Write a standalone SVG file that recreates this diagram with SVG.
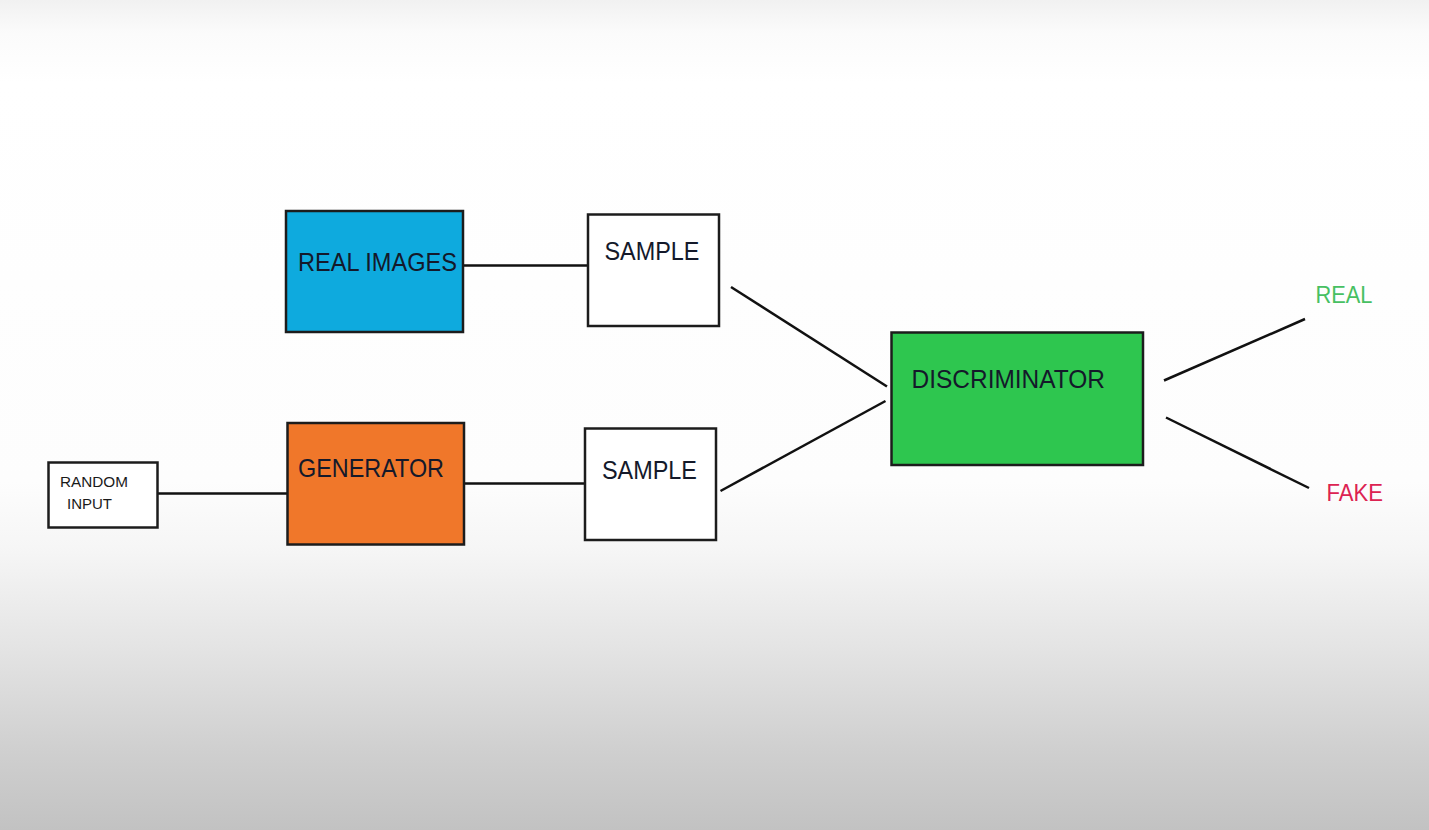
<svg xmlns="http://www.w3.org/2000/svg" width="1429" height="830" viewBox="0 0 1429 830">
<defs>
<linearGradient id="bg" x1="0" y1="0" x2="0" y2="1">
<stop offset="0" stop-color="#f1f1f1"/>
<stop offset="0.04" stop-color="#fbfbfb"/>
<stop offset="0.1" stop-color="#ffffff"/>
<stop offset="0.58" stop-color="#fdfdfd"/>
<stop offset="0.66" stop-color="#f6f6f6"/>
<stop offset="0.78" stop-color="#e4e4e4"/>
<stop offset="0.9" stop-color="#d0d0d0"/>
<stop offset="1" stop-color="#c2c2c2"/>
</linearGradient>
<style>
.box{stroke:#1c1c1c;stroke-width:2.5}
.lbl{font-family:"Liberation Sans",Arial,sans-serif;font-size:26px;fill:#14192a}
.sm{font-family:"Liberation Sans",Arial,sans-serif;font-size:15px;fill:#1a1a1a}
.conn line{stroke:#111;stroke-width:2.5;stroke-linecap:butt}
.out{font-family:"Liberation Sans",Arial,sans-serif;font-size:23px}
</style>
</defs>
<rect x="0" y="0" width="1429" height="830" fill="url(#bg)"/>
<g id="connectors" class="conn">
<line x1="463" y1="265.5" x2="587" y2="265.5"/>
<line x1="157" y1="493.5" x2="287" y2="493.5"/>
<line x1="464" y1="483.5" x2="584" y2="483.5"/>
<line x1="731" y1="287" x2="887" y2="386.5"/>
<line x1="720.5" y1="491" x2="885.5" y2="401"/>
<line x1="1164" y1="380.5" x2="1305" y2="319"/>
<line x1="1166" y1="417.5" x2="1309" y2="488"/>
</g>
<g id="real-images">
<rect class="box" x="286" y="211" width="177" height="121" fill="#0eaade"/>
<text class="lbl" x="298" y="271" textLength="159" lengthAdjust="spacingAndGlyphs">REAL IMAGES</text>
</g>
<g id="random-input">
<rect class="box" x="48.5" y="462.5" width="109" height="65" fill="#ffffff"/>
<text class="sm" x="60" y="487" textLength="68" lengthAdjust="spacingAndGlyphs">RANDOM</text>
<text class="sm" x="67" y="509" textLength="45" lengthAdjust="spacingAndGlyphs">INPUT</text>
</g>
<g id="generator">
<rect class="box" x="287.5" y="423" width="176.5" height="121.5" fill="#f0772a"/>
<text class="lbl" x="298" y="477" textLength="146" lengthAdjust="spacingAndGlyphs">GENERATOR</text>
</g>
<g id="sample-top">
<rect class="box" x="588" y="214.5" width="131" height="111.5" fill="#ffffff"/>
<text class="lbl" x="604.5" y="260" textLength="95" lengthAdjust="spacingAndGlyphs">SAMPLE</text>
</g>
<g id="sample-bottom">
<rect class="box" x="585" y="428.5" width="131" height="111.5" fill="#ffffff"/>
<text class="lbl" x="602" y="479" textLength="95" lengthAdjust="spacingAndGlyphs">SAMPLE</text>
</g>
<g id="discriminator">
<rect class="box" x="891.5" y="332.5" width="251.5" height="132.5" fill="#2ec64f"/>
<text class="lbl" x="911.5" y="388" textLength="193.5" lengthAdjust="spacingAndGlyphs">DISCRIMINATOR</text>
</g>
<g id="out-real">
<text class="out" x="1315.5" y="302.5" fill="#47c062" textLength="57" lengthAdjust="spacingAndGlyphs">REAL</text>
</g>
<g id="out-fake">
<text class="out" x="1326.5" y="500.5" fill="#dc2352" textLength="56.5" lengthAdjust="spacingAndGlyphs">FAKE</text>
</g>
</svg>
